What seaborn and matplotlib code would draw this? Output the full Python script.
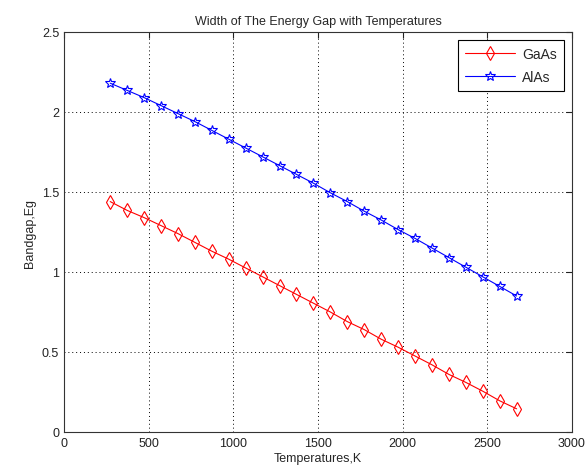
import numpy as np
import pandas as pd
import matplotlib
matplotlib.use("Agg")
import matplotlib.pyplot as plt
from matplotlib.ticker import FormatStrFormatter
import seaborn as sns

# temperatures in K (one point per 100 K)
temps = [273, 373, 473, 573, 673, 773, 873, 973, 1073, 1173, 1273, 1373, 1473,
         1573, 1673, 1773, 1873, 1973, 2073, 2173, 2273, 2373, 2473, 2573, 2673]

gaas = [1.44, 1.385, 1.34, 1.29, 1.24, 1.185, 1.13, 1.08, 1.025, 0.97, 0.915, 0.86, 0.805,
        0.75, 0.69, 0.64, 0.58, 0.53, 0.475, 0.42, 0.36, 0.31, 0.255, 0.195, 0.145]

alas = [2.18, 2.135, 2.09, 2.04, 1.99, 1.94, 1.885, 1.83, 1.775, 1.72, 1.665, 1.61, 1.555,
        1.495, 1.44, 1.38, 1.325, 1.265, 1.21, 1.15, 1.09, 1.03, 0.97, 0.91, 0.85]

sns.set_style("white")
plt.rcParams['font.family'] = ['Liberation Sans', 'DejaVu Sans']

fig = plt.figure(figsize=(5.86, 4.77), dpi=100)
ax = fig.add_axes([64 / 586, 44 / 477, 508 / 586, 400 / 477])

df = pd.DataFrame({"T": temps, "GaAs": gaas, "AlAs": alas})

sns.lineplot(data=df, x="T", y="GaAs", ax=ax, color="red", marker="d",
             markersize=7, markerfacecolor="none", markeredgecolor="red",
             markeredgewidth=0.8, linewidth=0.8, label="GaAs")
sns.lineplot(data=df, x="T", y="AlAs", ax=ax, color="blue", marker="*",
             markersize=7, markerfacecolor="none", markeredgecolor="blue",
             markeredgewidth=0.8, linewidth=0.8, label="AlAs")

ax.set_xlim(0, 3000)
ax.set_ylim(0, 2.5)
ax.set_xticks(np.arange(0, 3001, 500))
ax.set_yticks(np.arange(0, 2.51, 0.5))
ax.yaxis.set_major_formatter(FormatStrFormatter('%g'))
ax.grid(True, linestyle=(0, (1, 3)), color="black", linewidth=0.7)
ax.tick_params(direction="in", length=4, top=True, right=True, labelsize=9,
               colors="#222222", width=0.8)
for s in ax.spines.values():
    s.set_color("#333333")
    s.set_linewidth(0.8)

ax.set_xlabel("Temperatures,K", fontsize=9, labelpad=2)
ax.set_ylabel("Bandgap,Eg", fontsize=9, labelpad=4)
ax.set_title("Width of The Energy Gap with Temperatures", fontsize=9, pad=6)

leg = ax.legend(loc="upper right", fontsize=10, fancybox=False, framealpha=1,
                edgecolor="black", borderaxespad=0.6, handlelength=3.6,
                labelspacing=0.6, borderpad=0.5, handletextpad=0.5)
leg.get_frame().set_linewidth(0.8)

fig.savefig("out.png", dpi=100)
